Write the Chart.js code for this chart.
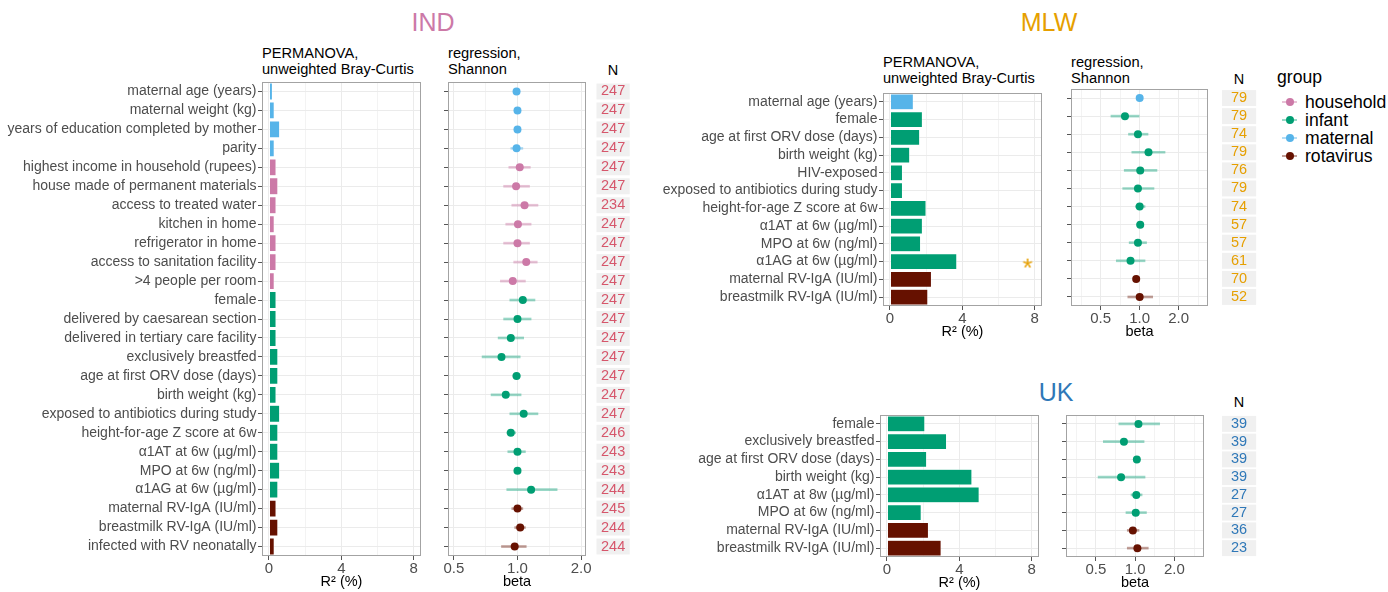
<!DOCTYPE html>
<html>
<head>
<meta charset="utf-8">
<script src="https://cdn.jsdelivr.net/npm/chart.js@4.4.1/dist/chart.umd.min.js"></script>
<style>
  body { margin: 0; background: #fff; font-family: 'Liberation Sans', Arial, sans-serif; }
  #wrap { position: relative; width: 1388px; height: 592px; overflow: hidden; }
  .txt { position: absolute; white-space: nowrap; color: #000; }
</style>
</head>
<body>
<div id="wrap"></div>
<script>
// ---- data ----
const GROUP_COLORS = { household: '#CC79A7', infant: '#009E73', maternal: '#56B4E9', rotavirus: '#661100' };
const GROUP_FADED = { household: 'rgba(204,121,167,0.45)', infant: 'rgba(0,158,115,0.4)', maternal: 'rgba(86,180,233,0.45)', rotavirus: 'rgba(102,17,0,0.4)' };
const LEGEND_GROUPS = ['household', 'infant', 'maternal', 'rotavirus'];

const R2_TICKS = [0, 2, 4, 6, 8];
const R2_MAJOR = [0, 4, 8];
const BETA_TICKS = [0.3536, 0.5, 0.7071, 1, 1.4142, 2, 2.8284];
const BETA_MAJOR = [0.5, 1, 2];
const STAR_AT = 7.6;

const IND_LABELS = ['maternal age (years)', 'maternal weight (kg)', 'years of education completed by mother', 'parity',
  'highest income in household (rupees)', 'house made of permanent materials', 'access to treated water', 'kitchen in home',
  'refrigerator in home', 'access to sanitation facility', '>4 people per room', 'female', 'delivered by caesarean section',
  'delivered in tertiary care facility', 'exclusively breastfed', 'age at first ORV dose (days)', 'birth weight (kg)',
  'exposed to antibiotics during study', 'height-for-age Z score at 6w', 'α1AT at 6w (µg/ml)', 'MPO at 6w (ng/ml)',
  'α1AG at 6w (µg/ml)', 'maternal RV-IgA (IU/ml)', 'breastmilk RV-IgA (IU/ml)', 'infected with RV neonatally'];
const IND_GROUPS = ['maternal', 'maternal', 'maternal', 'maternal',
  'household', 'household', 'household', 'household', 'household', 'household', 'household',
  'infant', 'infant', 'infant', 'infant', 'infant', 'infant', 'infant', 'infant', 'infant', 'infant', 'infant',
  'rotavirus', 'rotavirus', 'rotavirus'];
const IND_R2 = [0.2, 0.3, 0.6, 0.3, 0.4, 0.5, 0.4, 0.3, 0.4, 0.4, 0.3, 0.4, 0.4, 0.4, 0.5, 0.5, 0.4, 0.6, 0.5, 0.5, 0.6, 0.5, 0.4, 0.5, 0.3];
const IND_BETA = [0.99, 1.0, 1.0, 0.99, 1.025, 0.985, 1.08, 1.005, 1.0, 1.1, 0.95, 1.06, 1.0, 0.93, 0.84, 0.99, 0.88, 1.07, 0.93, 1.0, 1.0, 1.16, 1.0, 1.03, 0.97];
const IND_LO = [0.97, 0.98, 0.98, 0.93, 0.91, 0.86, 0.94, 0.88, 0.86, 0.96, 0.83, 0.92, 0.86, 0.81, 0.68, 0.95, 0.75, 0.92, 0.89, 0.9, 0.97, 0.89, 0.94, 0.97, 0.84];
const IND_HI = [1.01, 1.02, 1.02, 1.06, 1.15, 1.14, 1.25, 1.16, 1.14, 1.24, 1.09, 1.21, 1.16, 1.07, 1.03, 1.03, 1.04, 1.25, 0.98, 1.09, 1.03, 1.54, 1.06, 1.09, 1.1];
const IND_N = [247, 247, 247, 247, 247, 247, 234, 247, 247, 247, 247, 247, 247, 247, 247, 247, 247, 247, 246, 243, 243, 244, 245, 244, 244];

const MLW_LABELS = ['maternal age (years)', 'female', 'age at first ORV dose (days)', 'birth weight (kg)', 'HIV-exposed',
  'exposed to antibiotics during study', 'height-for-age Z score at 6w', 'α1AT at 6w (µg/ml)', 'MPO at 6w (ng/ml)',
  'α1AG at 6w (µg/ml)', 'maternal RV-IgA (IU/ml)', 'breastmilk RV-IgA (IU/ml)'];
const MLW_GROUPS = ['maternal', 'infant', 'infant', 'infant', 'infant', 'infant', 'infant', 'infant', 'infant', 'infant', 'rotavirus', 'rotavirus'];
const MLW_R2 = [1.3, 1.8, 1.65, 1.1, 0.7, 0.7, 2.0, 1.8, 1.7, 3.7, 2.3, 2.1];
const MLW_SIG = ['', '', '', '', '', '', '', '', '', '*', '', ''];
const MLW_BETA = [1.0, 0.77, 0.97, 1.17, 1.01, 0.97, 1.0, 1.01, 0.97, 0.85, 0.94, 1.0];
const MLW_LO = [0.98, 0.6, 0.82, 0.87, 0.76, 0.74, 0.93, 0.95, 0.83, 0.66, 0.9, 0.81];
const MLW_HI = [1.02, 0.99, 1.16, 1.57, 1.36, 1.29, 1.1, 1.07, 1.13, 1.1, 0.99, 1.26];
const MLW_N = [79, 79, 74, 79, 76, 79, 74, 57, 57, 61, 70, 52];

const UK_LABELS = ['female', 'exclusively breastfed', 'age at first ORV dose (days)', 'birth weight (kg)',
  'α1AT at 8w (µg/ml)', 'MPO at 6w (ng/ml)', 'maternal RV-IgA (IU/ml)', 'breastmilk RV-IgA (IU/ml)'];
const UK_GROUPS = ['infant', 'infant', 'infant', 'infant', 'infant', 'infant', 'rotavirus', 'rotavirus'];
const UK_R2 = [2.1, 3.3, 2.2, 4.7, 5.1, 1.9, 2.3, 3.0];
const UK_BETA = [1.06, 0.82, 1.03, 0.78, 1.02, 1.01, 0.96, 1.04];
const UK_LO = [0.75, 0.57, 0.99, 0.52, 0.93, 0.85, 0.87, 0.87];
const UK_HI = [1.54, 1.17, 1.07, 1.19, 1.13, 1.22, 1.07, 1.26];
const UK_N = [39, 39, 39, 39, 27, 27, 36, 23];

// ---- helpers ----
Chart.defaults.font.family = "'Liberation Sans', Arial, sans-serif";
const wrap = document.getElementById('wrap');

function makeCanvas(left, top, w, h) {
  const c = document.createElement('canvas');
  c.width = w; c.height = h;
  c.style.cssText = 'position:absolute;left:' + left + 'px;top:' + top + 'px;width:' + w + 'px;height:' + h + 'px';
  wrap.appendChild(c);
  return c;
}

function text(str, x, y, size, color, align) {
  const d = document.createElement('div');
  d.className = 'txt';
  d.innerHTML = str;
  d.style.fontSize = size + 'px';
  d.style.lineHeight = '16px';
  d.style.top = y + 'px';
  d.style.color = color || '#000';
  d.style.left = x + 'px';
  if (align === 'center') d.style.transform = 'translateX(-50%)';
  wrap.appendChild(d);
  return d;
}

// box round the plotting panel
const panelBox = {
  id: 'panelBox',
  afterDraw(chart) {
    const a = chart.chartArea, c = chart.ctx;
    c.save();
    c.strokeStyle = '#a3a3a3';
    c.lineWidth = 1;
    c.strokeRect(Math.round(a.left) + 0.5, Math.round(a.top) + 0.5, Math.round(a.width) - 1, Math.round(a.height) - 1);
    c.restore();
  }
};

function starImage() {
  const c = document.createElement('canvas');
  c.width = 24; c.height = 24;
  const g = c.getContext('2d');
  g.fillStyle = '#E69F00';
  g.font = "26px 'Liberation Sans'";
  g.textAlign = 'center';
  g.textBaseline = 'alphabetic';
  g.fillText('*', 12, 12 + 26 * 0.58);
  return c;
}

// keep axis label overflow from shrinking the panel
function fixPad(s) { s.paddingTop = 0; s.paddingBottom = 0; s.paddingLeft = 0; s.paddingRight = 0; }

function xGrid(majors) {
  return {
    color: '#ebebeb',
    lineWidth: ctx => (ctx.tick && majors.includes(ctx.tick.value)) ? 1 : 0.6,
    tickLength: 4,
    tickColor: ctx => (ctx.tick && majors.includes(ctx.tick.value)) ? '#555' : 'rgba(0,0,0,0)'
  };
}

const xTitle = t => ({ display: true, text: t, color: '#000', font: { size: 14.5 }, padding: { top: 0, bottom: 1.5 } });
const xTicks = majors => ({
  color: '#4d4d4d', font: { size: 15 }, padding: 0, autoSkip: false, maxRotation: 0,
  callback: v => majors.includes(v) ? (majors === BETA_MAJOR ? v.toFixed(1) : String(v)) : ''
});

function drawBars(p) {
  const cv = makeCanvas(p.left, p.top, p.width, p.height);
  const datasets = [{
    data: p.values,
    backgroundColor: p.groups.map(g => GROUP_COLORS[g]),
    borderColor: '#ffffff', borderWidth: 0.6, borderSkipped: false,
    barPercentage: 0.9, categoryPercentage: 1.0, order: 2
  }];
  if (p.sig) {
    datasets.push({
      type: 'line', data: p.sig.map(s => s ? STAR_AT : null), showLine: false,
      pointStyle: starImage(), pointRadius: 8, order: 1
    });
  }
  new Chart(cv, {
    type: 'bar',
    data: { labels: p.labels, datasets: datasets },
    plugins: [panelBox],
    options: {
      responsive: false, animation: false, indexAxis: 'y',
      layout: { padding: { top: 5, right: 8, left: 0, bottom: 0 } },
      plugins: { legend: { display: false }, tooltip: { enabled: false } },
      scales: {
        x: {
          type: 'linear', min: -0.38, max: 8.4, bounds: 'data',
          afterBuildTicks: s => { s.ticks = R2_TICKS.map(v => ({ value: v })); },
          grid: xGrid(R2_MAJOR), border: { display: false },
          ticks: xTicks(R2_MAJOR), title: xTitle('R² (%)'),
          afterFit: s => { s.height = 36; fixPad(s); }
        },
        y: {
          grid: { offset: false, color: '#ebebeb', tickLength: 4, tickColor: '#555' },
          border: { display: false },
          ticks: { color: '#4d4d4d', font: { size: 14 }, padding: 1.5, autoSkip: false },
          afterFit: s => { s.width = p.yw; fixPad(s); }
        }
      }
    }
  });
}

function drawReg(p) {
  const cv = makeCanvas(p.left, p.top, p.width, p.height);
  new Chart(cv, {
    type: 'bar',
    data: {
      labels: p.labels,
      datasets: [{
        data: p.lo.map((v, i) => [v, p.hi[i]]),
        backgroundColor: p.groups.map(g => GROUP_FADED[g]),
        borderWidth: 0, barThickness: 2, order: 2
      }, {
        type: 'line', data: p.beta, showLine: false,
        pointRadius: 4, pointHoverRadius: 4, pointBorderWidth: 0,
        pointBackgroundColor: p.groups.map(g => GROUP_COLORS[g]), order: 1
      }]
    },
    plugins: [panelBox],
    options: {
      responsive: false, animation: false, indexAxis: 'y',
      layout: { padding: { top: 5, right: 0, left: 0, bottom: 0 } },
      plugins: { legend: { display: false }, tooltip: { enabled: false } },
      scales: {
        x: {
          type: 'logarithmic', min: p.min, max: p.max, bounds: 'data',
          afterBuildTicks: s => { s.ticks = BETA_TICKS.filter(v => v >= p.min && v <= p.max).map(v => ({ value: v })); },
          grid: xGrid(BETA_MAJOR), border: { display: false },
          ticks: xTicks(BETA_MAJOR), title: xTitle('beta'),
          afterFit: s => { s.height = 36; fixPad(s); }
        },
        y: {
          grid: { offset: false, color: '#ebebeb', tickLength: 4, tickColor: '#555' },
          border: { display: false },
          ticks: { display: false },
          afterFit: s => { s.width = 8; fixPad(s); }
        },
        y2: {
          type: 'category', labels: p.n.map(String), position: 'right', offset: true,
          grid: { display: false, drawTicks: false }, border: { display: false },
          ticks: {
            color: p.nColor, font: { size: 14.5, lineHeight: 1.1 }, crossAlign: 'center',
            padding: p.nPad, autoSkip: false, showLabelBackdrop: true, backdropColor: '#f0f0f0',
            backdropPadding: { left: p.bx, right: p.bx, top: 0, bottom: 0 }
          },
          afterFit: s => { s.width = p.y2w; fixPad(s); }
        }
      }
    }
  });
}

// ---- IND ----
text('IND', 433, 10, 25, '#CC79A7', 'center').style.lineHeight = '25px';
text('PERMANOVA,<br>unweighted Bray-Curtis', 262, 45, 14.6);
text('regression,<br>Shannon', 448, 45, 14.7);
text('N', 613, 62, 14.5, '#000', 'center');
drawBars({ left: 0, top: 77, width: 429, height: 515, yw: 262, labels: IND_LABELS, groups: IND_GROUPS, values: IND_R2 });
drawReg({ left: 440, top: 77, width: 196, height: 515, labels: IND_LABELS, groups: IND_GROUPS,
  beta: IND_BETA, lo: IND_LO, hi: IND_HI, n: IND_N, min: 0.469, max: 2.11,
  nColor: '#d6566b', nPad: 15, bx: 4.5, y2w: 50 });

// ---- MLW ----
text('MLW', 1049, 10, 25, '#E69F00', 'center').style.lineHeight = '25px';
text('PERMANOVA,<br>unweighted Bray-Curtis', 883, 54, 14.6);
text('regression,<br>Shannon', 1071, 54, 14.7);
text('N', 1239, 71, 14.5, '#000', 'center');
drawBars({ left: 645, top: 84, width: 406, height: 258, yw: 238, labels: MLW_LABELS, groups: MLW_GROUPS, values: MLW_R2, sig: MLW_SIG });
drawReg({ left: 1063, top: 84, width: 201, height: 258, labels: MLW_LABELS, groups: MLW_GROUPS,
  beta: MLW_BETA, lo: MLW_LO, hi: MLW_HI, n: MLW_N, min: 0.295, max: 3.37,
  nColor: '#E69F00', nPad: 23, bx: 9, y2w: 56 });

// ---- UK ----
text('UK', 1056, 380, 25, '#2f78b8', 'center').style.lineHeight = '25px';
text('N', 1239, 394, 14.5, '#000', 'center');
drawBars({ left: 645, top: 410, width: 402, height: 183, yw: 235, labels: UK_LABELS, groups: UK_GROUPS, values: UK_R2 });
drawReg({ left: 1058, top: 410, width: 206, height: 183, labels: UK_LABELS, groups: UK_GROUPS,
  beta: UK_BETA, lo: UK_LO, hi: UK_HI, n: UK_N, min: 0.295, max: 3.37,
  nColor: '#2f78b8', nPad: 27, bx: 9, y2w: 60 });

// ---- legend ----
text('group', 1277, 69, 17.6);
LEGEND_GROUPS.forEach((g, i) => {
  const y = 102 + i * 18;
  const line = document.createElement('div');
  line.style.cssText = 'position:absolute;left:1282px;top:' + (y - 1) + 'px;width:15px;height:2px;background:' + GROUP_FADED[g];
  wrap.appendChild(line);
  const dot = document.createElement('div');
  dot.style.cssText = 'position:absolute;left:' + (1290 - 4) + 'px;top:' + (y - 4) + 'px;width:8px;height:8px;border-radius:50%;background:' + GROUP_COLORS[g];
  wrap.appendChild(dot);
  text(g, 1305, y - 8, 17.6);
});
</script>
</body>
</html>
